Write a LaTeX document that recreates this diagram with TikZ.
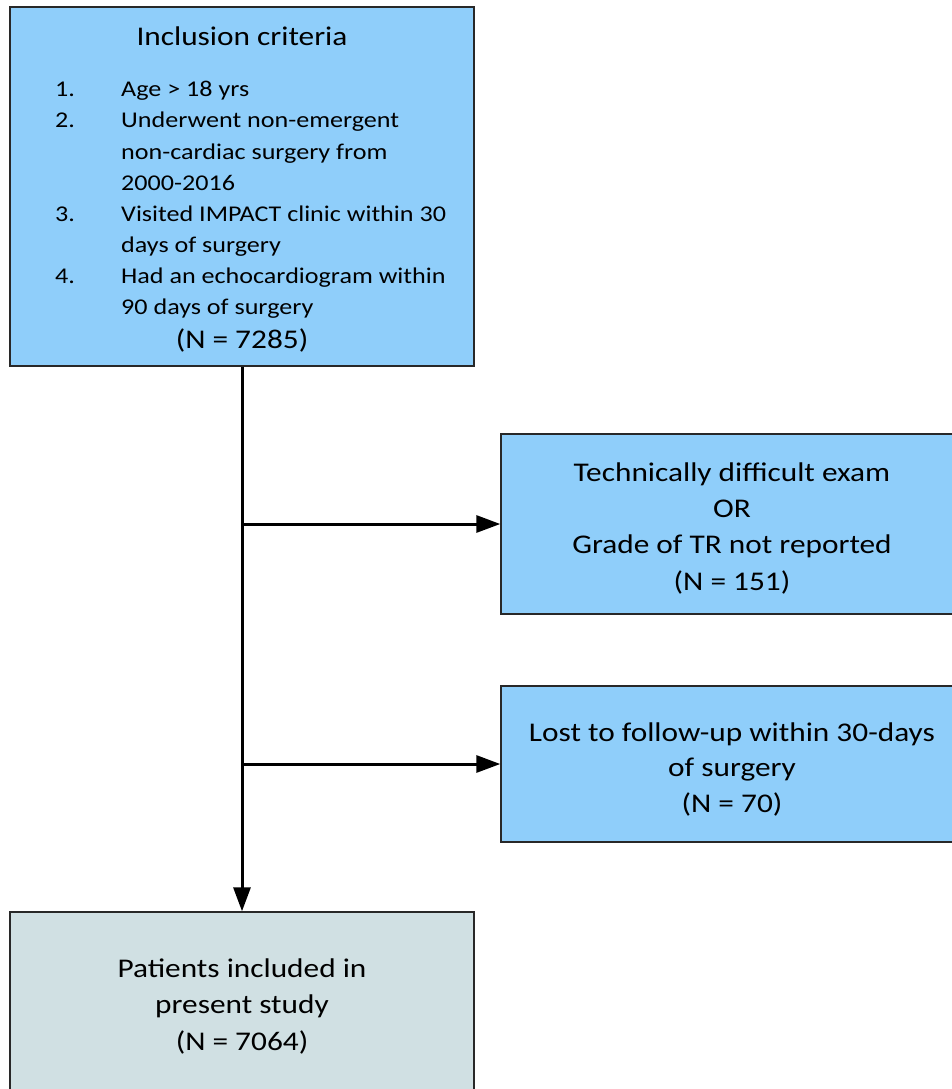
\documentclass[tikz,border=0pt]{standalone}
\usepackage{fontspec}
\setmainfont{Carlito}[FakeStretch=1.16]
\usetikzlibrary{arrows.meta}
\definecolor{boxblue}{RGB}{143,206,250}
\definecolor{boxgrey}{RGB}{208,224,227}
\definecolor{edgecol}{RGB}{40,40,40}
\begin{document}
\begin{tikzpicture}[x=1pt,y=-1pt,
  box/.style={draw=edgecol, line width=1.4pt, inner sep=0pt, rectangle},
  big/.style={font=\fontsize{27}{32}\selectfont, anchor=base, inner sep=0pt},
  small/.style={font=\fontsize{22.5}{27}\selectfont, anchor=base west, inner sep=0pt},
  conn/.style={line width=3pt, -{Triangle[length=24pt,width=17pt]}}]
\useasboundingbox (0,0) rectangle (952,1089);
\clip (0,0) rectangle (952,1089);
% boxes
\node[box, fill=boxblue, minimum width=464pt, minimum height=359pt] (incl) at (242,186.5) {};
\node[box, fill=boxblue, minimum width=462pt, minimum height=180pt] (ex1) at (732,524) {};
\node[box, fill=boxblue, minimum width=462pt, minimum height=156pt] (ex2) at (732,764) {};
\node[box, fill=boxgrey, minimum width=464pt, minimum height=186pt] (final) at (242,1005) {};
% inclusion text
\node[big] (title) at (242,46) {Inclusion criteria};
\node[small] (n1) at (55,97) {1.};
\node[small] (n2) at (55,128) {2.};
\node[small] (n3) at (55,221) {3.};
\node[small] (n4) at (55,283) {4.};
\node[small] (l1) at (121,97) {Age > 18 yrs};
\node[small] (l2) at (121,128) {Underwent non-emergent};
\node[small] (l3) at (121,159) {non-cardiac surgery from};
\node[small] (l4) at (121,190) {2000-2016};
\node[small] (l5) at (121,221) {Visited IMPACT clinic within 30};
\node[small] (l6) at (121,252) {days of surgery};
\node[small] (l7) at (121,283) {Had an echocardiogram within};
\node[small] (l8) at (121,314) {90 days of surgery};
\node[big] (nincl) at (242,348) {(N = 7285)};
% exclusion 1
\node[big] (a1) at (732,481) {Technically difficult exam};
\node[big] (a2) at (732,517) {OR};
\node[big] (a3) at (732,553) {Grade of TR not reported};
\node[big] (a4) at (732,590) {(N = 151)};
% exclusion 2
\node[big] (b1) at (732,741) {Lost to follow-up within 30-days};
\node[big] (b2) at (732,776.5) {of surgery};
\node[big] (b3) at (732,812) {(N = 70)};
% final
\node[big] (c1) at (242,977) {Patients included in};
\node[big] (c2) at (242,1013) {present study};
\node[big] (c3) at (242,1050) {(N = 7064)};
% connectors
\coordinate (j1) at (242,524);
\coordinate (j2) at (242,764);
\draw[conn] (incl.south) -- (final.north);
\draw[conn] (j1) -- (ex1.west);
\draw[conn] (j2) -- (ex2.west);
\end{tikzpicture}
\end{document}
